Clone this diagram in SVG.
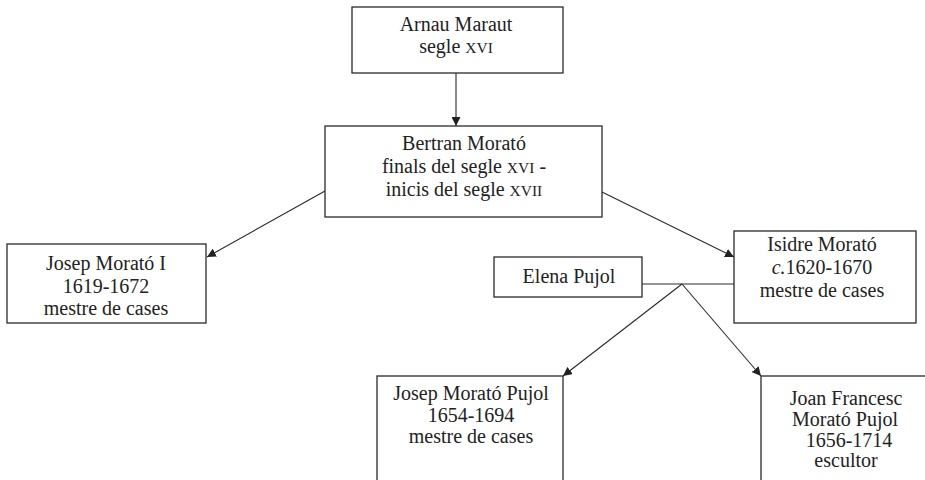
<svg xmlns="http://www.w3.org/2000/svg" width="925" height="480" viewBox="0 0 925 480">
<style>
.box{fill:#fff;stroke:#2a2a2a;stroke-width:1.3}
.t{font-family:'Liberation Serif','Tinos','DejaVu Serif',serif;font-size:20px;fill:#222;text-anchor:middle}
.sc{font-size:15.5px}
.ln{stroke:#2a2a2a;stroke-width:1.1;fill:none}
</style>
<defs>
<marker id="ah" viewBox="0 0 10 10" refX="10" refY="5" markerWidth="9" markerHeight="9" markerUnits="userSpaceOnUse" orient="auto">
<path d="M0,0 L10,5 L0,10 z" fill="#222"/>
</marker>
</defs>
<rect width="925" height="480" fill="#fff"/>
<g id="connectors">
<line class="ln" x1="456" y1="73" x2="456" y2="126" marker-end="url(#ah)"/>
<line class="ln" x1="325" y1="191" x2="207" y2="257" marker-end="url(#ah)"/>
<line class="ln" x1="602" y1="192" x2="734" y2="257" marker-end="url(#ah)"/>
<line class="ln" x1="642" y1="284" x2="734" y2="284"/>
<line class="ln" x1="682" y1="284" x2="563" y2="376" marker-end="url(#ah)"/>
<line class="ln" x1="682" y1="284" x2="761" y2="376" marker-end="url(#ah)"/>
</g>
<g id="arnau">
<rect class="box" x="352" y="7" width="211" height="66"/>
<text class="t" x="456" y="31">Arnau Maraut</text>
<text class="t" x="456" y="53">segle <tspan class="sc">XVI</tspan></text>
</g>
<g id="bertran">
<rect class="box" x="325" y="126" width="277" height="91"/>
<text class="t" x="464" y="150">Bertran Morató</text>
<text class="t" x="464" y="173">finals del segle <tspan class="sc">XVI</tspan> -</text>
<text class="t" x="464" y="196">inicis del segle <tspan class="sc">XVII</tspan></text>
</g>
<g id="josep1">
<rect class="box" x="7" y="244" width="199" height="79"/>
<text class="t" x="106" y="270">Josep Morató I</text>
<text class="t" x="106" y="293">1619-1672</text>
<text class="t" x="106" y="315">mestre de cases</text>
</g>
<g id="isidre">
<rect class="box" x="734" y="231" width="182" height="92"/>
<text class="t" x="822" y="251">Isidre Morató</text>
<text class="t" x="822" y="274"><tspan font-style="italic">c.</tspan>1620-1670</text>
<text class="t" x="822" y="297">mestre de cases</text>
</g>
<g id="elena">
<rect class="box" x="494" y="257" width="148" height="40"/>
<text class="t" x="569" y="283">Elena Pujol</text>
</g>
<g id="josepPujol">
<rect class="box" x="377" y="376" width="186" height="114"/>
<text class="t" x="471" y="400">Josep Morató Pujol</text>
<text class="t" x="471" y="422">1654-1694</text>
<text class="t" x="471" y="443">mestre de cases</text>
</g>
<g id="joan">
<rect class="box" x="761" y="376" width="174" height="114"/>
<text class="t" x="846" y="405">Joan Francesc</text>
<text class="t" x="845" y="426">Morató Pujol</text>
<text class="t" x="849" y="447">1656-1714</text>
<text class="t" x="846" y="467">escultor</text>
</g>
</svg>
